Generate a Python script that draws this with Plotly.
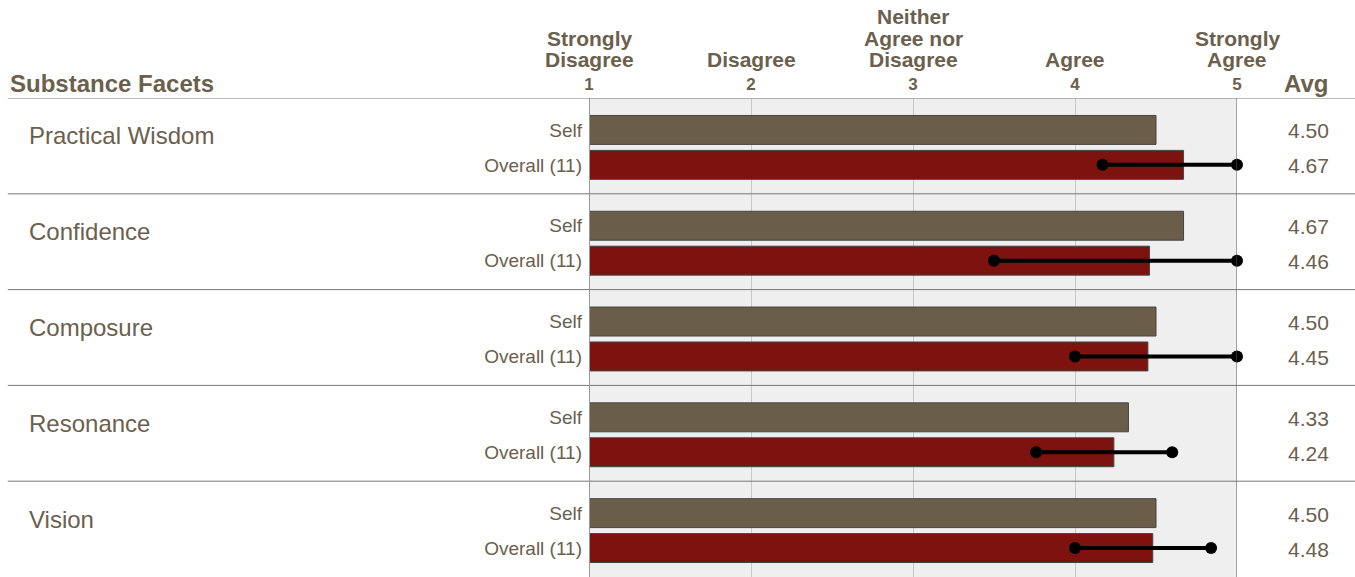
import plotly.graph_objects as go

facets = ["Practical Wisdom", "Confidence", "Composure", "Resonance", "Vision"]
self_vals = [4.50, 4.67, 4.50, 4.33, 4.50]
overall_vals = [4.67, 4.46, 4.45, 4.24, 4.48]
range_lo = [4.17, 3.5, 4.0, 3.76, 4.0]
range_hi = [5.0, 5.0, 5.0, 4.6, 4.84]
scale_vals = [1, 2, 3, 4, 5]
scale_words = [["Strongly", "Disagree"], ["Disagree"], ["Neither", "Agree nor", "Disagree"], ["Agree"], ["Strongly", "Agree"]]
row_labels = ["Self", "Overall (11)"]

TXT = "#6b604d"
FONT = "Liberation Sans, Arial, sans-serif"
SELF_OFF, OVR_OFF, BAR_W = 32 / 96, 67 / 96, 29 / 96

y_self = [i + SELF_OFF for i in range(len(facets))]
y_ovr = [i + OVR_OFF for i in range(len(facets))]

fig = go.Figure()
fig.add_trace(go.Bar(x=[v - 1 for v in self_vals], base=1, y=y_self, orientation="h", width=BAR_W,
                     marker=dict(color="#6a5e4a", line=dict(color="#454545", width=1)), hoverinfo="skip"))
fig.add_trace(go.Bar(x=[v - 1 for v in overall_vals], base=1, y=y_ovr, orientation="h", width=BAR_W,
                     marker=dict(color="#7d120e", line=dict(color="#454545", width=1)), hoverinfo="skip"))
for lo, hi, y in zip(range_lo, range_hi, y_ovr):
    fig.add_trace(go.Scatter(x=[lo, hi], y=[y, y], mode="lines+markers", cliponaxis=False,
                             line=dict(color="black", width=4), marker=dict(color="black", size=12),
                             hoverinfo="skip"))

shapes = []
for yy in range(0, len(facets)):
    shapes.append(dict(type="line", xref="paper", yref="y", x0=-0.897, x1=1.19, y0=yy, y1=yy,
                       line=dict(color="#777777", width=1)))
shapes.append(dict(type="line", xref="x", yref="paper", x0=1, x1=1, y0=0, y1=1, line=dict(color="#999999", width=2)))
shapes.append(dict(type="line", xref="x", yref="paper", x0=5, x1=5, y0=0, y1=1, line=dict(color="#555555", width=1)))

annotations = []
for v, words in zip(scale_vals, scale_words):
    n = len(words)
    for k, w in enumerate(words):
        center_px = 60 - (n - 1 - k) * 21.5
        annotations.append(dict(x=v, y=1, xref="x", yref="paper", text=f"<b>{w}</b>", showarrow=False,
                                xanchor="center", yanchor="middle", yshift=98 - center_px + 0.5,
                                font=dict(size=21, color=TXT, family=FONT)))
annotations.append(dict(x=-0.897, y=1, yshift=15, xref="paper", yref="paper", text="<b>Substance Facets</b>",
                        showarrow=False, xanchor="left", yanchor="middle", font=dict(size=24, color=TXT, family=FONT)))
annotations.append(dict(x=1.107, y=1, yshift=15, xref="paper", yref="paper", text="<b>Avg</b>",
                        showarrow=False, xanchor="center", yanchor="middle", font=dict(size=24, color=TXT, family=FONT)))
for i, f in enumerate(facets):
    annotations.append(dict(x=-0.868, y=i + 38 / 96, xref="paper", yref="y", text=f, showarrow=False,
                            xanchor="left", yanchor="middle", font=dict(size=24, color=TXT, family=FONT)))
for yv, val in zip(y_self + y_ovr, self_vals + overall_vals):
    annotations.append(dict(x=1.111, y=yv, yshift=-1, xref="paper", yref="y", text=f"{val:.2f}", showarrow=False,
                            xanchor="center", yanchor="middle", font=dict(size=21, color=TXT, family=FONT)))

fig.update_layout(
    width=1355, height=577, margin=dict(l=589, r=118, t=98, b=0),
    paper_bgcolor="white", plot_bgcolor="#efefef", showlegend=False, barmode="overlay",
    shapes=shapes, annotations=annotations, font=dict(family=FONT, color=TXT),
)
fig.update_xaxes(range=[1, 5], side="top", tickvals=scale_vals, ticktext=[f"<b>{v}</b>" for v in scale_vals],
                 tickfont=dict(size=17, color=TXT, family=FONT), showgrid=True, gridcolor="#c8c8c8", gridwidth=1,
                 zeroline=False, ticks="", ticklabelstandoff=4, fixedrange=True)
fig.update_yaxes(range=[len(facets), 0], tickvals=y_self + y_ovr,
                 ticktext=[row_labels[0]] * len(facets) + [row_labels[1]] * len(facets),
                 tickfont=dict(size=19, color=TXT, family=FONT), showgrid=False, zeroline=False, ticks="",
                 ticklabelstandoff=6, fixedrange=True)

fig.write_html("out.html")
